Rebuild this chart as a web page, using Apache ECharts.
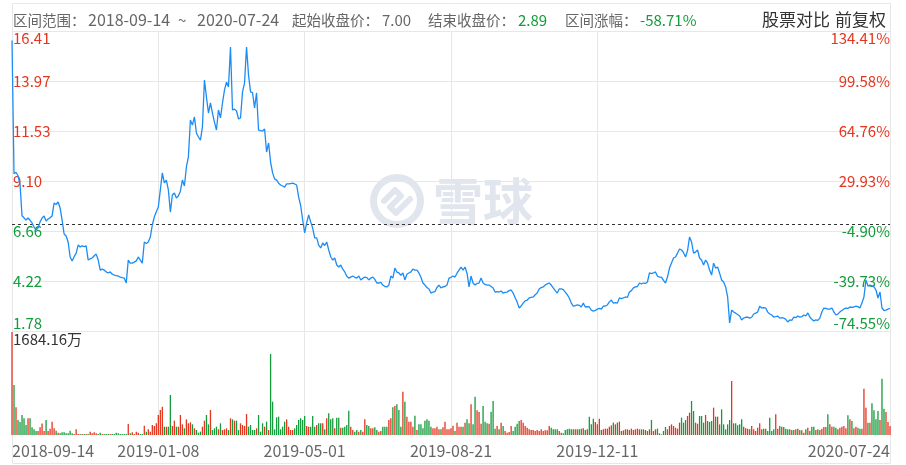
<!DOCTYPE html>
<html><head><meta charset="utf-8">
<script src="https://cdn.jsdelivr.net/npm/echarts@6/dist/echarts.min.js"></script>
<style>html,body{margin:0;padding:0;background:#fff}#c{width:906px;height:465px}</style>
</head><body><div id="c"></div>
<script>
// ---- data ----
const priceTicks = [1.78, 4.22, 6.66, 9.10, 11.53, 13.97, 16.41];
const pctTicks = ['-74.55%', '-39.73%', '-4.90%', '29.93%', '64.76%', '99.58%', '134.41%'];
const dateTicks = ['2018-09-14', '2019-01-08', '2019-05-01', '2019-08-21', '2019-12-11', '2020-07-24'];
const dateTickIdx = [0, 73, 146, 219, 292, 438];
const startPrice = 7.00;
const endPrice = 2.89;
const volMax = 1684.16;
const headerRange = ['2018-09-14', '2020-07-24'];
const headerChange = '-58.71%';

const price = [
15.95, 9.45, 9.52, 9.35, 8.95, 7.40, 7.30, 7.19, 7.29, 7.18,
7.05, 6.85, 6.71, 6.80, 7.10, 7.29, 7.39, 7.14, 7.24, 7.30,
7.39, 8.02, 7.95, 8.07, 7.78, 7.19, 6.51, 6.41, 6.12, 5.39,
5.19, 5.40, 5.58, 5.97, 5.88, 5.93, 5.90, 5.93, 5.24, 5.30,
5.34, 5.45, 5.53, 5.24, 4.75, 4.80, 4.75, 4.66, 4.61, 4.66,
4.55, 4.51, 4.48, 4.46, 4.41, 4.38, 4.36, 4.12, 5.24, 5.09,
5.09, 5.14, 5.20, 5.39, 5.24, 5.09, 6.12, 6.05, 6.12, 6.36,
6.95, 7.34, 7.60, 7.83, 8.66, 9.49, 9.00, 9.14, 8.66, 7.58,
8.41, 8.51, 8.27, 8.36, 8.60, 9.14, 8.85, 9.78, 10.27, 12.07,
11.82, 12.22, 11.44, 11.24, 11.09, 11.73, 14.02, 13.19, 12.41, 12.90,
12.41, 11.97, 11.58, 12.56, 12.17, 12.90, 13.53, 13.92, 13.68, 15.63,
12.56, 12.60, 12.51, 12.12, 12.17, 13.44, 13.87, 15.63, 14.26, 13.44,
13.40, 12.66, 13.39, 11.58, 11.55, 11.53, 11.63, 10.51, 10.95, 10.02,
9.49, 9.20, 9.14, 8.99, 8.90, 8.85, 8.80, 8.95, 8.95, 8.97,
8.99, 8.95, 8.90, 8.31, 7.90, 7.20, 6.56, 7.05, 7.44, 7.10,
6.80, 6.32, 6.32, 5.97, 5.83, 6.07, 5.95, 6.12, 5.73, 5.40,
5.24, 5.34, 5.00, 4.90, 5.00, 4.80, 4.66, 4.45, 4.36, 4.41,
4.46, 4.40, 4.36, 4.46, 4.27, 4.35, 4.41, 4.38, 4.27, 4.36,
4.41, 4.30, 4.12, 4.12, 4.15, 4.02, 3.95, 3.93, 4.02, 4.46,
4.36, 4.85, 4.65, 4.61, 4.50, 4.61, 4.27, 4.55, 4.61, 4.66,
4.80, 4.75, 4.75, 4.61, 4.40, 4.12, 4.02, 3.90, 3.83, 3.63,
3.68, 3.70, 3.90, 4.02, 3.88, 3.93, 3.95, 4.02, 4.36, 4.40,
4.46, 4.41, 4.60, 4.75, 4.90, 4.75, 4.90, 4.60, 3.93, 4.46,
4.12, 4.02, 4.10, 4.12, 4.36, 4.12, 4.05, 4.02, 4.02, 3.95,
3.88, 3.68, 3.70, 3.68, 3.73, 3.63, 3.66, 3.68, 3.75, 3.78,
3.63, 3.40, 3.19, 2.90, 3.00, 3.14, 3.25, 3.29, 3.39, 3.42,
3.44, 3.55, 3.63, 3.83, 3.90, 3.93, 4.02, 4.08, 4.12, 4.02,
3.88, 3.75, 3.63, 3.83, 3.83, 3.80, 3.68, 3.55, 3.39, 3.14,
2.99, 3.02, 3.05, 3.03, 2.95, 3.14, 2.95, 2.97, 2.95, 2.80,
2.75, 2.78, 2.85, 2.88, 2.85, 2.99, 3.00, 3.05, 3.20, 3.29,
3.14, 3.16, 3.14, 3.39, 3.36, 3.39, 3.44, 3.42, 3.68, 3.75,
3.88, 3.93, 3.95, 4.12, 4.07, 4.12, 4.10, 4.17, 4.61, 4.58,
4.61, 4.66, 4.45, 4.41, 4.41, 4.25, 4.12, 4.41, 4.85, 5.10,
5.34, 5.39, 5.58, 5.78, 5.73, 5.60, 5.39, 5.70, 6.36, 6.12,
5.58, 5.63, 5.73, 5.34, 5.24, 5.00, 5.24, 5.09, 4.75, 4.51,
5.09, 4.85, 4.90, 4.60, 4.27, 4.17, 3.93, 3.44, 2.17, 2.80,
2.71, 2.65, 2.58, 2.51, 2.32, 2.41, 2.45, 2.46, 2.41, 2.45,
2.61, 2.65, 2.71, 2.99, 2.90, 2.92, 2.90, 2.70, 2.61, 2.56,
2.46, 2.48, 2.51, 2.41, 2.43, 2.41, 2.35, 2.22, 2.32, 2.30,
2.46, 2.43, 2.51, 2.46, 2.48, 2.56, 2.52, 2.66, 2.46, 2.35,
2.27, 2.32, 2.30, 2.41, 2.71, 2.90, 2.88, 2.85, 2.85, 2.90,
2.71, 2.56, 2.60, 2.71, 2.78, 2.85, 2.90, 2.88, 2.95, 2.93,
2.95, 2.99, 2.97, 2.90, 3.14, 3.44, 4.27, 3.97, 4.02, 3.98,
3.93, 3.78, 3.39, 3.68, 2.90, 2.78, 2.80, 2.85, 2.89
];

const volume = [
1684.16, 817, 452, 245, 212, 327, 272, 163, 272, 272,
125, 93, 65, 65, 125, 190, 65, 245, 65, 103,
218, 109, 70, 38, 27, 44, 44, 27, 27, 71,
27, 16, 93, 16, 16, 16, 16, 16, 16, 55,
27, 44, 27, 16, 38, 16, 16, 16, 16, 16,
16, 16, 38, 27, 16, 16, 16, 16, 180, 27,
44, 16, 55, 38, 16, 16, 153, 55, 93, 55,
164, 147, 191, 327, 409, 463, 136, 136, 136, 654,
147, 234, 136, 136, 327, 174, 109, 256, 191, 207,
174, 109, 82, 38, 55, 136, 234, 327, 174, 409,
82, 109, 136, 93, 191, 82, 93, 109, 82, 273,
256, 234, 234, 82, 191, 164, 147, 343, 136, 164,
82, 82, 109, 327, 55, 191, 136, 218, 82, 1324,
545, 93, 289, 300, 93, 136, 218, 256, 136, 82,
82, 109, 164, 245, 273, 245, 311, 147, 136, 136,
311, 136, 164, 191, 191, 191, 93, 273, 354, 256,
273, 109, 283, 283, 120, 120, 136, 164, 398, 136,
82, 55, 82, 55, 82, 55, 256, 164, 147, 109,
109, 125, 82, 55, 65, 136, 136, 136, 245, 273,
452, 474, 501, 409, 136, 709, 545, 300, 218, 218,
136, 316, 82, 174, 174, 109, 234, 256, 234, 136,
109, 109, 136, 93, 93, 125, 218, 93, 93, 109,
153, 65, 202, 136, 136, 136, 202, 256, 191, 501,
174, 627, 403, 376, 185, 474, 218, 191, 185, 382,
556, 104, 147, 93, 202, 147, 65, 38, 49, 147,
65, 136, 185, 229, 245, 202, 147, 120, 93, 82,
82, 65, 82, 65, 93, 65, 76, 76, 147, 120,
93, 93, 93, 65, 38, 27, 82, 93, 104, 93,
93, 93, 93, 93, 104, 109, 82, 93, 300, 174,
267, 213, 174, 267, 82, 93, 104, 104, 136, 158,
202, 174, 202, 218, 65, 76, 93, 93, 82, 104,
82, 93, 104, 93, 93, 93, 82, 65, 93, 245,
65, 93, 104, 27, 11, 65, 131, 93, 147, 174,
147, 120, 104, 202, 283, 202, 245, 311, 365, 556,
392, 202, 185, 311, 311, 202, 327, 229, 213, 229,
447, 300, 300, 174, 420, 174, 93, 174, 245, 883,
191, 191, 158, 174, 256, 136, 109, 104, 93, 147,
93, 65, 120, 191, 93, 104, 104, 65, 283, 65,
93, 338, 104, 147, 136, 131, 104, 93, 93, 82,
82, 93, 104, 82, 76, 38, 93, 120, 65, 136,
136, 82, 93, 82, 104, 131, 131, 338, 174, 136,
136, 120, 93, 120, 136, 147, 109, 322, 256, 229,
109, 136, 120, 104, 104, 758, 447, 202, 202, 518,
403, 256, 392, 245, 921, 431, 376, 213, 147
];

// ---- chart ----
const RED = '#e4361f', GREEN = '#149b3b', BLUE = '#1c8cf5', GRID = '#e7e7ea';
const FONT = "'Noto Sans CJK SC', 'Noto Sans', sans-serif";
const lastIdx = price.length - 1;

const lineData = price.map((v, i) => [i, v]);
const barData = volume.map((v, i) => {
  const prev = i === 0 ? startPrice : price[i - 1];
  return { value: [i, v], itemStyle: { color: price[i] >= prev ? RED : GREEN } };
});
function nearestIdx(arr, v) {
  let b = 0; for (let k = 1; k < arr.length; k++) if (Math.abs(arr[k] - v) < Math.abs(arr[b] - v)) b = k; return b;
}
const priceColor = v => (v >= startPrice ? RED : GREEN);

function txt(x, y, text, size, color, extra) {
  return Object.assign({ type: 'text', x: x, y: y, silent: true, z: 10,
    style: { text: text, fontSize: size, fill: color, fontFamily: FONT, verticalAlign: 'middle', align: 'left' } }, extra || {});
}

const chart = echarts.init(document.getElementById('c'));
chart.setOption({
  animation: false,
  grid: [
    { left: 12, right: 16, top: 31, height: 300 },
    { left: 12, right: 16, top: 332, height: 103 }
  ],
  xAxis: [
    { type: 'value', gridIndex: 0, min: 0, max: lastIdx,
      axisLine: { show: false }, axisTick: { show: false, customValues: dateTickIdx },
      axisLabel: { show: false, customValues: dateTickIdx },
      splitLine: { show: true, lineStyle: { color: GRID, width: 1 } } },
    { type: 'value', gridIndex: 1, min: 0, max: lastIdx,
      axisLine: { show: false }, axisTick: { show: false, customValues: dateTickIdx },
      axisLabel: { customValues: dateTickIdx, margin: 8, color: '#666', fontSize: 16, fontFamily: FONT,
        alignMinLabel: 'left', alignMaxLabel: 'right',
        formatter: v => dateTicks[nearestIdx(dateTickIdx, v)] },
      splitLine: { show: true, lineStyle: { color: GRID, width: 1 } } }
  ],
  yAxis: [
    { type: 'value', gridIndex: 0, min: priceTicks[0], max: priceTicks[priceTicks.length - 1], position: 'left',
      axisLine: { show: false }, axisTick: { show: false, customValues: priceTicks },
      axisLabel: { inside: true, margin: 1, customValues: priceTicks, fontSize: 15, fontFamily: FONT,
        verticalAlignMinLabel: 'bottom', verticalAlignMaxLabel: 'top',
        formatter: v => priceTicks[nearestIdx(priceTicks, v)].toFixed(2),
        color: v => priceColor(v) },
      splitLine: { show: true, lineStyle: { color: GRID, width: 1 } } },
    { type: 'value', gridIndex: 0, min: priceTicks[0], max: priceTicks[priceTicks.length - 1], position: 'right',
      axisLine: { show: false }, axisTick: { show: false, customValues: priceTicks },
      axisLabel: { inside: true, margin: 0, customValues: priceTicks, fontSize: 15, fontFamily: FONT,
        verticalAlignMinLabel: 'bottom', verticalAlignMaxLabel: 'top',
        formatter: v => pctTicks[nearestIdx(priceTicks, v)],
        color: v => priceColor(v) },
      splitLine: { show: false } },
    { type: 'value', gridIndex: 1, min: 0, max: volMax,
      axisLine: { show: false }, axisTick: { show: false, customValues: [volMax] },
      axisLabel: { inside: true, margin: 1, customValues: [volMax], fontSize: 15, fontFamily: FONT, color: '#333',
        verticalAlign: 'top', formatter: v => volMax.toFixed(2) + '万' },
      splitLine: { show: false } }
  ],
  series: [
    { type: 'line', xAxisIndex: 0, yAxisIndex: 0, data: lineData, showSymbol: false, z: 5,
      lineStyle: { color: BLUE, width: 1.3 }, itemStyle: { color: BLUE },
      markLine: { silent: true, symbol: ['none', 'none'], label: { show: false },
        lineStyle: { color: '#333', type: [3, 3], width: 1 },
        data: [{ yAxis: startPrice }] } },
    { type: 'bar', xAxisIndex: 1, yAxisIndex: 2, data: barData, barWidth: 1.3, z: 3 }
  ],
  graphic: [
    { type: 'rect', silent: true, z: 1, shape: { x: 12.5, y: 3.5, width: 878, height: 460 },
      style: { fill: 'none', stroke: GRID, lineWidth: 1 } },
    // watermark
    { type: 'ring', silent: true, z: 0, shape: { cx: 397, cy: 201, r: 27, r0: 20 }, style: { fill: '#e1e6ee' } },
    { type: 'polyline', silent: true, z: 0, shape: { points: [[384, 201], [395, 190], [401, 196], [390, 207], [396, 213], [410, 199]] },
      style: { stroke: '#e1e6ee', lineWidth: 6, fill: 'none', lineJoin: 'round', lineCap: 'round' } },
    txt(433, 201, '雪球', 50, '#e1e6ee', { z: 0, style: { text: '雪球', fontSize: 50, fontWeight: 'bold', fill: '#e1e6ee', fontFamily: FONT, verticalAlign: 'middle' } }),
    // header
    txt(13, 20, '区间范围：', 14.5, '#666'),
    txt(88, 20, headerRange[0], 16, '#666'),
    txt(178, 20, '~', 15, '#666'),
    txt(197, 20, headerRange[1], 16, '#666'),
    txt(292, 20, '起始收盘价：', 14.5, '#666'),
    txt(382, 20, startPrice.toFixed(2), 15, '#666'),
    txt(428, 20, '结束收盘价：', 14.5, '#666'),
    txt(518, 20, endPrice.toFixed(2), 15, GREEN),
    txt(565, 20, '区间涨幅：', 14.5, '#666'),
    txt(640, 20, headerChange, 15, GREEN),
    txt(762, 20, '股票对比', 17, '#333'),
    txt(835, 20, '前复权', 17, '#333')
  ]
});
</script></body></html>
